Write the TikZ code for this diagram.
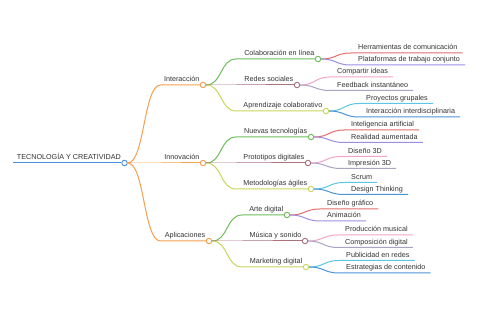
\documentclass[tikz,border=0pt]{standalone}
\usepackage{fontspec}
\setmainfont{Liberation Sans}
\usepackage{tikz}
\usetikzlibrary{calc,backgrounds}
\definecolor{ink}{HTML}{333333}
\definecolor{rootblue}{HTML}{4A90D9}
\definecolor{orng}{HTML}{F5A04E}
\definecolor{grn}{HTML}{6DBE5B}
\definecolor{mauve}{HTML}{A9737E}
\definecolor{ylw}{HTML}{C9D65C}
\definecolor{redl}{HTML}{E36C6C}
\definecolor{purp}{HTML}{9C8FE2}
\definecolor{pinkl}{HTML}{F3A5C8}
\definecolor{lavg}{HTML}{A8A4C2}
\definecolor{cyanl}{HTML}{5DC7E3}
\definecolor{bluel}{HTML}{4E93D6}
\tikzset{
  dot/.style={circle,draw=#1,fill=white,line width=0.9pt,minimum size=5.5pt,inner sep=0pt},
  lbl/.style={font=\fontsize{7.2}{8}\selectfont,text=ink,inner sep=0pt},
  edge/.style={line width=1pt,color=#1},
}

\begin{document}
\begin{tikzpicture}[x=1pt,y=-1pt]
    \useasboundingbox[fill=white] (0,0) rectangle (480,320);
    % root
    \node[dot=rootblue] (root) at (124.5,163) {};
    \node[lbl,anchor=base east] (root-t) at ([xshift=-3.5pt,yshift=3pt]root.center) {TECNOLOGÍA Y CREATIVIDAD};
    \coordinate (root-l) at (13,163);
    \draw[edge=rootblue] (root-l) -- (root.west);
    % first level
    \foreach \n/\x/\y/\txt in {inter/203/85/Interacción,innov/203/163/Innovación,aplic/209/241/Aplicaciones} {
      \node[dot=orng] (\n) at (\x,\y) {};
      \node[lbl,anchor=base east] (\n-t) at ([xshift=-3.5pt,yshift=3pt]\n.center) {\txt};
      \draw[edge=orng] (root.east) .. controls +(17,0) and +(-17,0) .. ($(root.center |- \n)+(36,0)$) -- (\n.west);
    }
    % second level
    \foreach \p/\n/\x/\y/\col/\txt in {inter/colab/318/59/grn/Colaboración en línea,
        inter/redes/297/85/mauve/Redes sociales,
        inter/aprend/326/111/ylw/Aprendizaje colaborativo,
        innov/nuevas/311/137/grn/Nuevas tecnologías,
        innov/proto/308/163/mauve/Prototipos digitales,
        innov/metod/311/189/ylw/Metodologías ágiles,
        aplic/arte/287/215/grn/Arte digital,
        aplic/musica/305/241/mauve/Música y sonido,
        aplic/market/306/267/ylw/Marketing digital} {
      \node[dot=\col] (\n) at (\x,\y) {};
      \node[lbl,anchor=base east] (\n-t) at ([xshift=-3.5pt,yshift=3pt]\n.center) {\txt};
      \draw[edge=\col] (\p.east) .. controls +(16,0) and +(-16,0) .. ($(\p.center |- \n)+(33,0)$) -- (\n.west);
    }
    % leaves
    \foreach \p/\n/\y/\col/\txt in {colab/herram/53/redl/Herramientas de comunicación,
        colab/plataf/65/purp/Plataformas de trabajo conjunto,
        redes/compart/77/pinkl/Compartir ideas,
        redes/feedb/90.5/lavg/Feedback instantáneo,
        aprend/proyec/103.5/cyanl/Proyectos grupales,
        aprend/interd/117/bluel/Interacción interdisciplinaria,
        nuevas/intel/130/redl/Inteligencia artificial,
        nuevas/realid/142.5/purp/Realidad aumentada,
        proto/dis3d/156.5/pinkl/Diseño 3D,
        proto/imp3d/168.5/lavg/Impresión 3D,
        metod/scrum/182.5/cyanl/Scrum,
        metod/dthink/194.5/bluel/Design Thinking,
        arte/disgraf/209/redl/Diseño gráfico,
        arte/anim/221/purp/Animación,
        musica/produc/235/pinkl/Producción musical,
        musica/compos/247.5/lavg/Composición digital,
        market/public/260.5/cyanl/Publicidad en redes,
        market/estrat/273/bluel/Estrategias de contenido} {
      \node[lbl,anchor=base west] (\n) at ($(\p.center |- 0,\y)+(40,-3)$) {\txt};
      \draw[edge=\col] (\p.east) .. controls +(15,0) and +(-15,0) .. ($(\p.center |- 0,\y)+(33,0)$) -- ($(\n.base east)+(5,3)$);
    }
\end{tikzpicture}
\end{document}
